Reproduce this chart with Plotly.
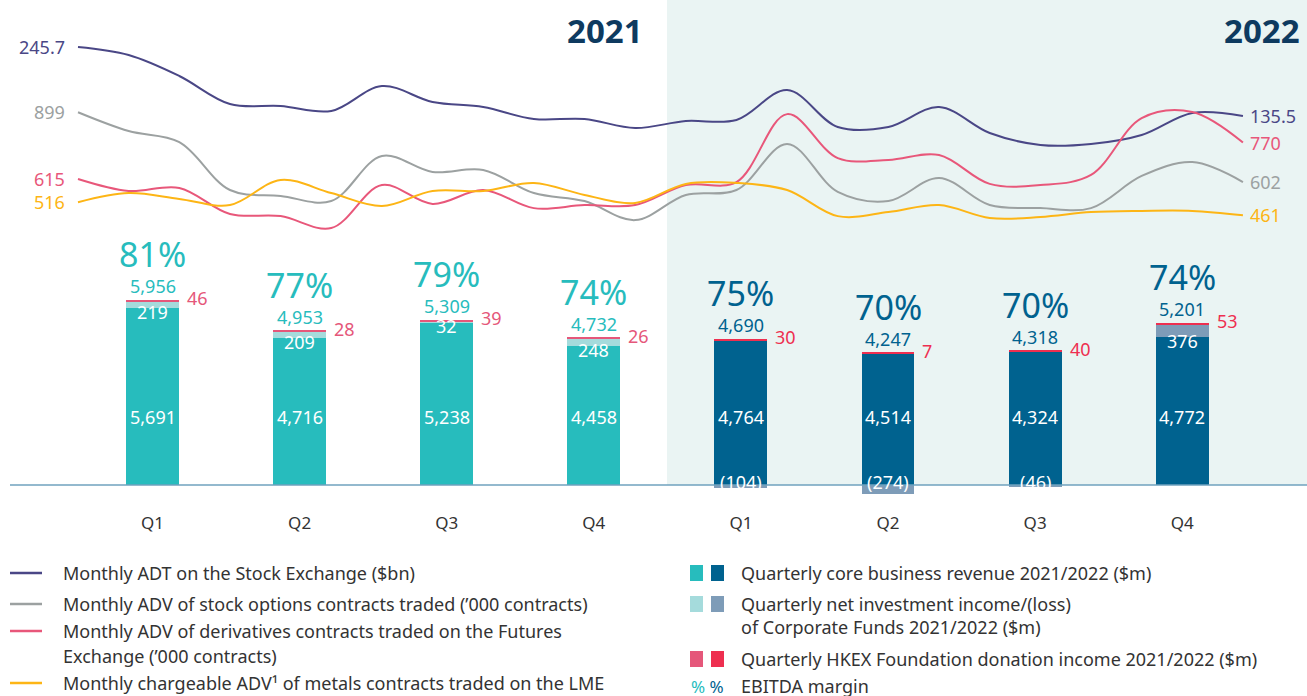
import plotly.graph_objects as go

W, H = 1307, 696

# ---------------- data ----------------
quarters = ["Q1", "Q2", "Q3", "Q4", "Q1", "Q2", "Q3", "Q4"]
years = ["2021", "2021", "2021", "2021", "2022", "2022", "2022", "2022"]
core_revenue = [5691, 4716, 5238, 4458, 4764, 4514, 4324, 4772]
net_investment = [219, 209, 32, 248, -104, -274, -46, 376]
donation_income = [46, 28, 39, 26, 30, 7, 40, 53]
total_revenue = [5956, 4953, 5309, 4732, 4690, 4247, 4318, 5201]
ebitda_margin = [81, 77, 79, 74, 75, 70, 70, 74]

months = list(range(24))
adt_stock_exchange = [245.7, 232.9, 199.4, 154.6, 151.4, 143.5, 183.4, 157.8, 149.8, 130.7, 130.7, 116.3,
                      127.5, 129.1, 177.0, 117.9, 117.9, 149.8, 108.3, 89.1, 90.7, 105.1, 140.3, 135.5]
adv_stock_options = [899, 819, 772, 568, 543, 521, 713, 645, 653, 555, 521, 440,
                     547, 568, 764, 560, 521, 619, 504, 491, 491, 628, 687, 602]
adv_derivatives = [615, 564, 577, 466, 457, 406, 589, 509, 568, 491, 504, 504,
                   589, 602, 891, 704, 696, 717, 594, 589, 632, 874, 900, 770]
adv_metals_lme = [516, 555, 530, 504, 611, 555, 500, 564, 564, 598, 547, 513,
                  594, 598, 568, 457, 474, 504, 449, 453, 474, 479, 479, 461]

# ---------------- styles ----------------
FONT = "Noto Sans"
C_TEAL, C_TEAL_L, C_PINK = "#27BCBD", "#A5DBDC", "#E5577A"
C_NAVY, C_NAVY_L, C_RED = "#00628F", "#7E9CB8", "#EE2F50"
C_ADT, C_OPT, C_DER, C_LME = "#4A4786", "#9CA1A1", "#E8577A", "#FDB515"
C_TEXT = "#333333"
C_YEAR = "#0E3A5F"
FS = 18

def px(x):
    return x / W

def py(y):
    return 1 - y / H

# axis mappings (pixel geometry)
BASE = 485.0
S_BAR = 0.0311          # px per $m
BAR0, BARSTEP = 152.5, 147.1
M0, MSTEP = 78.0, 50.65
ADT_A, ADT_B = 200.8, 0.626
ADV_A, ADV_B = 323.5, 0.235

fig = go.Figure()

is21 = [y == "2021" for y in years]
xs = list(range(8))
core_disp = [c + min(i, 0) for c, i in zip(core_revenue, net_investment)]

def sel(vals, mask):
    return [v if m else None for v, m in zip(vals, mask)]

m21 = is21
m22 = [not m for m in is21]
BW = 0.36
fig.add_bar(x=xs, y=sel(core_disp, m21), marker_color=C_TEAL, width=BW, xaxis="x", yaxis="y")
fig.add_bar(x=xs, y=sel(core_disp, m22), marker_color=C_NAVY, width=BW, xaxis="x", yaxis="y")
fig.add_bar(x=xs, y=sel(net_investment, m21), marker_color=C_TEAL_L, width=BW, xaxis="x", yaxis="y")
fig.add_bar(x=xs, y=sel(net_investment, m22), marker_color=C_NAVY_L, width=BW, xaxis="x", yaxis="y")
fig.add_bar(x=xs, y=sel(donation_income, m21), marker_color=C_PINK, width=BW, xaxis="x", yaxis="y")
fig.add_bar(x=xs, y=sel(donation_income, m22), marker_color=C_RED, width=BW, xaxis="x", yaxis="y")
for tr in fig.data:
    tr.marker.line.width = 0

# lines
fig.add_scatter(x=months, y=adt_stock_exchange, mode="lines", line=dict(color=C_ADT, width=2, shape="spline", smoothing=1),
                xaxis="x2", yaxis="y2")
fig.add_scatter(x=months, y=adv_stock_options, mode="lines", line=dict(color=C_OPT, width=2, shape="spline", smoothing=1),
                xaxis="x2", yaxis="y3")
fig.add_scatter(x=months, y=adv_derivatives, mode="lines", line=dict(color=C_DER, width=2, shape="spline", smoothing=1),
                xaxis="x2", yaxis="y3")
fig.add_scatter(x=months, y=adv_metals_lme, mode="lines", line=dict(color=C_LME, width=2, shape="spline", smoothing=1),
                xaxis="x2", yaxis="y3")

ann = []
# line end labels
for vals, col, ya in [(adt_stock_exchange, C_ADT, "y2"), (adv_stock_options, C_OPT, "y3"),
                      (adv_derivatives, C_DER, "y3"), (adv_metals_lme, C_LME, "y3")]:
    fmt = (lambda v: f"{v:.1f}") if ya == "y2" else (lambda v: f"{v:,.0f}")
    ann.append(dict(x=months[0], y=vals[0], xref="x2", yref=ya, text=fmt(vals[0]), showarrow=False,
                    xanchor="right", xshift=-11, font=dict(family=FONT, size=FS, color=col)))
    ann.append(dict(x=months[-1], y=vals[-1], xref="x2", yref=ya, text=fmt(vals[-1]), showarrow=False,
                    xanchor="left", xshift=5, font=dict(family=FONT, size=FS, color=col)))

# bar labels
for i in range(8):
    c_main = C_TEAL if is21[i] else C_NAVY
    c_don = C_PINK if is21[i] else C_RED
    ann.append(dict(x=i, y=total_revenue[i], xref="x", yref="y", text=f"{total_revenue[i]:,}", showarrow=False,
                    yanchor="middle", yshift=14, font=dict(family=FONT, size=FS, color=c_main)))
    ann.append(dict(x=i, y=total_revenue[i], xref="x", yref="y", text=f"{ebitda_margin[i]}%", showarrow=False,
                    yanchor="middle", yshift=46, font=dict(family=FONT, size=34, color=c_main)))
    ann.append(dict(x=i + BW / 2, y=total_revenue[i], xref="x", yref="y", text=f"{donation_income[i]}", showarrow=False,
                    xanchor="left", xshift=6, yanchor="middle", yshift=2, font=dict(family=FONT, size=FS, color=c_don)))
    ann.append(dict(x=i, y=2200, xref="x", yref="y", text=f"{core_revenue[i]:,}", showarrow=False,
                    yanchor="middle", font=dict(family=FONT, size=FS, color="white")))
    v = net_investment[i]
    if v >= 0:
        ann.append(dict(x=i, y=core_revenue[i], xref="x", yref="y", text=f"{v:,}", showarrow=False,
                        yanchor="middle", yshift=-4, font=dict(family=FONT, size=FS, color="white")))
    else:
        ann.append(dict(x=i, y=0, xref="x", yref="y", text=f"({-v:,})", showarrow=False,
                        yanchor="middle", yshift=3, font=dict(family=FONT, size=FS, color="white")))

# year headers
ann.append(dict(x=px(645), y=py(30), xref="paper", yref="paper", text="<b>2021</b>", showarrow=False,
                xanchor="right", yanchor="middle", font=dict(family=FONT, size=33, color=C_YEAR)))
ann.append(dict(x=px(1302), y=py(30), xref="paper", yref="paper", text="<b>2022</b>", showarrow=False,
                xanchor="right", yanchor="middle", font=dict(family=FONT, size=33, color=C_YEAR)))

shapes = []
# 2022 shading
shapes.append(dict(type="rect", xref="paper", yref="paper", x0=px(667), x1=1, y0=py(BASE), y1=1,
                   fillcolor="#EAF4F3", line=dict(width=0), layer="below"))
# baseline
shapes.append(dict(type="line", xref="paper", yref="paper", x0=px(10), x1=1, y0=py(BASE), y1=py(BASE),
                   line=dict(color="#6FA2BE", width=1.5), layer="above"))

# legend (left)
left_items = [(573, C_ADT, "Monthly ADT on the Stock Exchange ($bn)"),
              (604, C_OPT, "Monthly ADV of stock options contracts traded (’000 contracts)"),
              (631, C_DER, "Monthly ADV of derivatives contracts traded on the Futures"),
              (683, C_LME, "Monthly chargeable ADV¹ of metals contracts traded on the LME")]
for yy, col, txt in left_items:
    shapes.append(dict(type="line", xref="paper", yref="paper", x0=px(10), x1=px(42), y0=py(yy), y1=py(yy),
                       line=dict(color=col, width=2.5)))
    ann.append(dict(x=px(61), y=py(yy), xref="paper", yref="paper", text=txt, showarrow=False,
                    xanchor="left", yanchor="middle", font=dict(family=FONT, size=FS, color=C_TEXT)))
ann.append(dict(x=px(61), y=py(656), xref="paper", yref="paper", text="Exchange (’000 contracts)", showarrow=False,
                xanchor="left", yanchor="middle", font=dict(family=FONT, size=FS, color=C_TEXT)))

# legend (right)
right_items = [(573, C_TEAL, C_NAVY, ["Quarterly core business revenue 2021/2022 ($m)"]),
               (604, C_TEAL_L, C_NAVY_L, ["Quarterly net investment income/(loss)", "of Corporate Funds 2021/2022 ($m)"]),
               (659, C_PINK, C_RED, ["Quarterly HKEX Foundation donation income 2021/2022 ($m)"])]
for yy, c1, c2, lines in right_items:
    for k, (x0, c) in enumerate([(690, c1), (711, c2)]):
        shapes.append(dict(type="rect", xref="paper", yref="paper", x0=px(x0), x1=px(x0 + 13),
                           y0=py(yy + 8), y1=py(yy - 8), fillcolor=c, line=dict(width=0)))
    for j, t in enumerate(lines):
        ann.append(dict(x=px(739), y=py(yy + 23 * j), xref="paper", yref="paper", text=t, showarrow=False,
                        xanchor="left", yanchor="middle", font=dict(family=FONT, size=FS, color=C_TEXT)))
ann.append(dict(x=px(689), y=py(686), xref="paper", yref="paper",
                text=f"<span style='color:{C_TEAL}'>%</span> <span style='color:{C_NAVY}'>%</span>",
                showarrow=False, xanchor="left", yanchor="middle", font=dict(family=FONT, size=17, color=C_TEXT)))
ann.append(dict(x=px(739), y=py(686), xref="paper", yref="paper", text="EBITDA margin", showarrow=False,
                xanchor="left", yanchor="middle", font=dict(family=FONT, size=FS, color=C_TEXT)))

fig.update_layout(
    width=W, height=H, margin=dict(l=0, r=0, t=0, b=0),
    paper_bgcolor="white", plot_bgcolor="rgba(0,0,0,0)",
    barmode="relative", bargap=0, showlegend=False,
    annotations=ann, shapes=shapes,
    xaxis=dict(domain=[0, 1], range=[-BAR0 / BARSTEP, (W - BAR0) / BARSTEP], anchor="free", position=py(BASE),
               tickvals=xs, ticktext=quarters, ticks="outside", ticklen=23, tickcolor="rgba(0,0,0,0)",
               showgrid=False, zeroline=False, showline=False,
               tickfont=dict(family=FONT, size=17, color=C_TEXT)),
    yaxis=dict(domain=[0, 1], range=[-(H - BASE) / S_BAR, BASE / S_BAR], visible=False, fixedrange=True),
    xaxis2=dict(overlaying="x", range=[-M0 / MSTEP, (W - M0) / MSTEP], visible=False),
    yaxis2=dict(overlaying="y", range=[(ADT_A - H) / ADT_B, ADT_A / ADT_B], visible=False),
    yaxis3=dict(overlaying="y", range=[(ADV_A - H) / ADV_B, ADV_A / ADV_B], visible=False),
)

fig.write_html("out.html", config={"displayModeBar": False},
               post_script="document.body.style.margin='0';document.body.style.overflow='hidden';")
